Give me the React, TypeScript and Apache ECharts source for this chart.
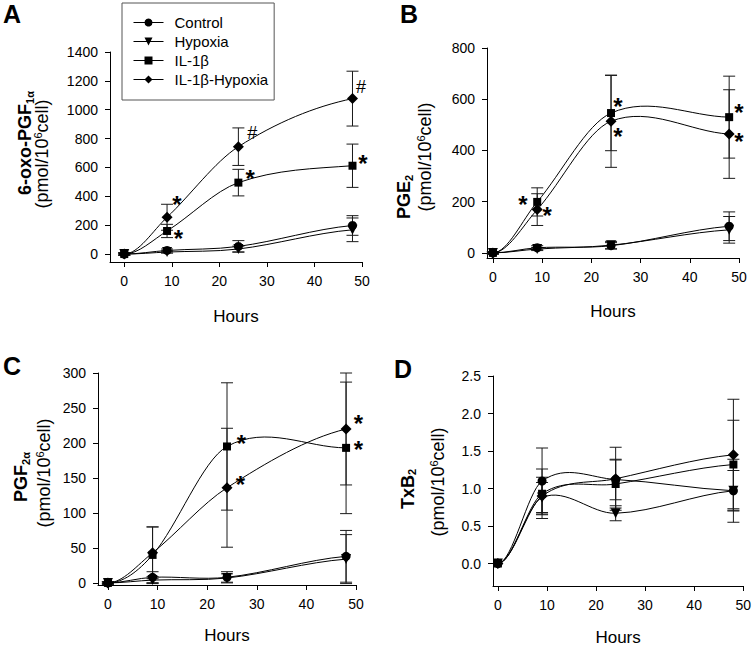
import React, { useEffect, useRef } from 'react';
import * as echarts from 'echarts';

const HOURS = [0, 9, 24, 48];
const GROUPS = ['Control', 'Hypoxia', 'IL-1β', 'IL-1β-Hypoxia'];
const SYMBOLS = ['circle', 'triangle', 'rect', 'diamond'];
const SYMBOL_SIZES = [9, 10, 8, 11];
const SYMBOL_ROTATE = [0, 180, 0, 0];
const X_TICKS = [0, 10, 20, 30, 40, 50];

// Panel A: 6-oxo-PGF1α
const A_CONTROL = [0, 25, 53, 198];
const A_CONTROL_ERR = [5, 10, 40, 68];
const A_HYPOXIA = [0, 14, 35, 168];
const A_HYPOXIA_ERR = [5, 8, 20, 82];
const A_IL1B = [0, 160, 495, 612];
const A_IL1B_ERR = [10, 46, 92, 150];
const A_IL1B_HYP = [0, 255, 744, 1077];
const A_IL1B_HYP_ERR = [10, 90, 130, 190];
const A_Y_TICKS = [0, 200, 400, 600, 800, 1000, 1200, 1400];
const A_NOTES: [string, number, number][] = [
  ['*', 11.1, 382], ['*', 11.4, 145], ['*', 26.5, 560], ['*', 50.2, 663], ['#', 26.9, 836], ['#', 49.8, 1158],
];

// Panel B: PGE2
const B_CONTROL = [0, 20, 28, 104];
const B_CONTROL_ERR = [3, 8, 12, 56];
const B_HYPOXIA = [0, 15, 30, 90];
const B_HYPOXIA_ERR = [3, 6, 15, 52];
const B_IL1B = [0, 199, 546, 530];
const B_IL1B_ERR = [5, 55, 147, 160];
const B_IL1B_HYP = [0, 169, 514, 464];
const B_IL1B_HYP_ERR = [5, 62, 180, 173];
const B_Y_TICKS = [0, 200, 400, 600, 800];
const B_NOTES: [string, number, number][] = [
  ['*', 6.1, 211], ['*', 11, 169], ['*', 25.4, 592], ['*', 25.4, 475], ['*', 50, 570], ['*', 50, 455],
];

// Panel C: PGF2α
const C_CONTROL = [0, 8, 8, 38];
const C_CONTROL_ERR = [1, 8, 8, 37];
const C_HYPOXIA = [0, 4, 7, 34];
const C_HYPOXIA_ERR = [1, 5, 6, 35];
const C_IL1B = [0, 40, 195, 193];
const C_IL1B_ERR = [2, 40, 91, 94];
const C_IL1B_HYP = [0, 43, 136, 220];
const C_IL1B_HYP_ERR = [2, 37, 85, 80];
const C_Y_TICKS = [0, 50, 100, 150, 200, 250, 300];
const C_NOTES: [string, number, number][] = [
  ['*', 26.9, 207], ['*', 26.7, 149], ['*', 50.5, 235], ['*', 50.5, 198],
];

// Panel D: TxB2
const D_CONTROL = [0, 1.1, 1.12, 0.97];
const D_CONTROL_ERR = [0, 0.44, 0.27, 0.42];
const D_HYPOXIA = [0, 0.88, 0.67, 0.97];
const D_HYPOXIA_ERR = [0, 0.2, 0.1, 0.27];
const D_IL1B = [0, 0.93, 1.06, 1.32];
const D_IL1B_ERR = [0, 0.33, 0.32, 0.59];
const D_IL1B_HYP = [0, 0.9, 1.13, 1.45];
const D_IL1B_HYP_ERR = [0, 0.25, 0.42, 0.74];
const D_Y_TICKS = [0, 0.5, 1.0, 1.5, 2.0, 2.5];
const D_NOTES: [string, number, number][] = [];

const FONT = '"Liberation Sans", Arial, Helvetica, sans-serif';
const INK = '#000';

const PANELS = [
  {
    letter: 'A', letterPos: [3, 14],
    values: [A_CONTROL, A_HYPOXIA, A_IL1B, A_IL1B_HYP],
    errs: [A_CONTROL_ERR, A_HYPOXIA_ERR, A_IL1B_ERR, A_IL1B_HYP_ERR],
    yTicks: A_Y_TICKS, yMin: -55, yMax: 1400, xMin: -3, notes: A_NOTES,
    grid: { left: 110, top: 52, width: 252, height: 210 }, nameGap: 46, decimals: 0,
    title: '{b|6-oxo-PGF}{bs|1α}', titlePos: [25, 143],
    unitPos: [42, 154],
  },
  {
    letter: 'B', letterPos: [400, 14],
    values: [B_CONTROL, B_HYPOXIA, B_IL1B, B_IL1B_HYP],
    errs: [B_CONTROL_ERR, B_HYPOXIA_ERR, B_IL1B_ERR, B_IL1B_HYP_ERR],
    yTicks: B_Y_TICKS, yMin: -20, yMax: 800, xMin: -1.2, notes: B_NOTES,
    grid: { left: 487, top: 48, width: 252, height: 210 }, nameGap: 45, decimals: 0,
    title: '{b|PGE}{bs|2}', titlePos: [404, 197],
    unitPos: [425, 157],
  },
  {
    letter: 'C', letterPos: [3, 366],
    values: [C_CONTROL, C_HYPOXIA, C_IL1B, C_IL1B_HYP],
    errs: [C_CONTROL_ERR, C_HYPOXIA_ERR, C_IL1B_ERR, C_IL1B_HYP_ERR],
    yTicks: C_Y_TICKS, yMin: -3, yMax: 300, xMin: -2, notes: C_NOTES,
    grid: { left: 98, top: 373, width: 258, height: 212 }, nameGap: 42, decimals: 0,
    title: '{b|PGF}{bs|2α}', titlePos: [21, 477],
    unitPos: [44, 473],
  },
  {
    letter: 'D', letterPos: [394, 369],
    values: [D_CONTROL, D_HYPOXIA, D_IL1B, D_IL1B_HYP],
    errs: [D_CONTROL_ERR, D_HYPOXIA_ERR, D_IL1B_ERR, D_IL1B_HYP_ERR],
    yTicks: D_Y_TICKS, yMin: -0.3, yMax: 2.5, xMin: -1, notes: D_NOTES,
    grid: { left: 493, top: 376, width: 251, height: 211 }, nameGap: 43, decimals: 1,
    title: '{b|TxB}{bs|2}', titlePos: [407.5, 489],
    unitPos: [438, 482],
  },
];

const TITLE_RICH = {
  b: { fontFamily: FONT, fontWeight: 'bold', fontSize: 18, lineHeight: 20, verticalAlign: 'middle', fill: INK, color: INK },
  bs: { fontFamily: FONT, fontWeight: 'bold', fontSize: 11, lineHeight: 11, verticalAlign: 'bottom', fill: INK, color: INK },
  n: { fontFamily: FONT, fontSize: 18, lineHeight: 20, verticalAlign: 'middle', fill: INK, color: INK },
  sup: { fontFamily: FONT, fontSize: 11, lineHeight: 11, verticalAlign: 'top', fill: INK, color: INK },
};

// Cardinal-spline tangents (flat start, half-secant end), like the plotting program's spline
function tangents(xs: number[], ys: number[]): number[] {
  const n = xs.length;
  const m = new Array(n).fill(0);
  for (let i = 1; i < n - 1; i++) m[i] = (ys[i + 1] - ys[i - 1]) / (xs[i + 1] - xs[i - 1]);
  m[0] = 0;
  m[n - 1] = 0.5 * (ys[n - 1] - ys[n - 2]) / (xs[n - 1] - xs[n - 2]);
  return m;
}

function buildOption() {
  const grids: any[] = [];
  const xAxes: any[] = [];
  const yAxes: any[] = [];
  const series: any[] = [];
  const graphics: any[] = [];

  PANELS.forEach((p, i) => {
    grids.push({ ...p.grid, containLabel: false });
    xAxes.push({
      type: 'value', gridIndex: i, min: p.xMin, max: 50,
      axisLine: { show: true, onZero: false, lineStyle: { color: INK, width: 1 } },
      axisTick: { show: true, length: 5, inside: false, customValues: X_TICKS, lineStyle: { color: INK, width: 1 } },
      axisLabel: { customValues: X_TICKS, fontSize: 14, fontFamily: FONT, color: INK, margin: 12 },
      splitLine: { show: false },
      name: 'Hours', nameLocation: 'middle', nameGap: p.nameGap,
      nameTextStyle: { fontSize: 17, fontFamily: FONT, color: INK },
    });
    yAxes.push({
      type: 'value', gridIndex: i, min: p.yMin, max: p.yMax,
      axisLine: { show: true, onZero: false, lineStyle: { color: INK, width: 1 } },
      axisTick: { show: true, length: 5, inside: false, customValues: p.yTicks, lineStyle: { color: INK, width: 1 } },
      axisLabel: {
        customValues: p.yTicks, fontSize: 14, fontFamily: FONT, color: INK, margin: 12,
        formatter: (v: number) => v.toFixed(p.decimals),
      },
      splitLine: { show: false },
    });

    // error bars
    const errData: number[][] = [];
    p.values.forEach((vals, g) => {
      vals.forEach((v, k) => errData.push([HOURS[k], v, p.errs[g][k]]));
    });
    series.push({
      type: 'custom', xAxisIndex: i, yAxisIndex: i, z: 2, silent: true,
      data: errData, encode: { x: 0, y: 1 },
      renderItem: (_params: any, api: any) => {
        const x = api.value(0), y = api.value(1), e = api.value(2);
        if (!e) return { type: 'group', children: [] };
        const top = api.coord([x, y + e]);
        const bot = api.coord([x, y - e]);
        const hw = 6;
        const style = { stroke: '#1a1a1a', lineWidth: 1 };
        return {
          type: 'group',
          children: [
            { type: 'line', shape: { x1: top[0], y1: top[1], x2: bot[0], y2: bot[1] }, style },
            { type: 'line', shape: { x1: top[0] - hw, y1: top[1], x2: top[0] + hw, y2: top[1] }, style },
            { type: 'line', shape: { x1: bot[0] - hw, y1: bot[1], x2: bot[0] + hw, y2: bot[1] }, style },
          ],
        };
      },
    });

    // spline curves: one bezier per segment between measured points
    const segData: number[][] = [];
    p.values.forEach((vals) => {
      const m = tangents(HOURS, vals);
      for (let k = 0; k < HOURS.length - 1; k++) {
        segData.push([HOURS[k], vals[k], HOURS[k + 1], vals[k + 1], m[k], m[k + 1]]);
      }
    });
    series.push({
      type: 'custom', xAxisIndex: i, yAxisIndex: i, z: 3, silent: true,
      data: segData, encode: { x: [0, 2], y: [1, 3] },
      renderItem: (_params: any, api: any) => {
        const x0 = api.value(0), y0 = api.value(1), x1 = api.value(2), y1 = api.value(3);
        const m0 = api.value(4), m1 = api.value(5);
        const h = x1 - x0;
        const a = api.coord([x0, y0]);
        const b = api.coord([x1, y1]);
        const c1 = api.coord([x0 + h / 3, y0 + (m0 * h) / 3]);
        const c2 = api.coord([x1 - h / 3, y1 - (m1 * h) / 3]);
        return {
          type: 'bezierCurve',
          shape: { x1: a[0], y1: a[1], x2: b[0], y2: b[1], cpx1: c1[0], cpy1: c1[1], cpx2: c2[0], cpy2: c2[1] },
          style: { stroke: INK, lineWidth: 1, fill: 'none' },
        };
      },
    });

    // markers (line series, line itself hidden; curve drawn above)
    p.values.forEach((vals, g) => {
      series.push({
        type: 'line', name: GROUPS[g], xAxisIndex: i, yAxisIndex: i, z: 4, silent: true,
        data: vals.map((v, k) => [HOURS[k], v]),
        symbol: SYMBOLS[g], symbolSize: SYMBOL_SIZES[g], symbolRotate: SYMBOL_ROTATE[g],
        showSymbol: true,
        lineStyle: { color: INK, width: 1, opacity: 0 },
        itemStyle: { color: INK, borderWidth: 0 },
        emphasis: { disabled: true },
      });
    });

    // significance marks
    if (p.notes.length) {
      const notes = p.notes;
      series.push({
        type: 'custom', xAxisIndex: i, yAxisIndex: i, z: 5, silent: true,
        data: notes.map((n) => [n[1], n[2]]), encode: { x: 0, y: 1 },
        renderItem: (params: any, api: any) => {
          const label = notes[params.dataIndex][0];
          const pt = api.coord([api.value(0), api.value(1)]);
          const isStar = label === '*';
          const fs = isStar ? 24 : 18;
          return {
            type: 'text', x: pt[0], y: pt[1] + (isStar ? 0.23 * fs : 0),
            style: {
              text: label, fontFamily: FONT, fontSize: fs, fontWeight: isStar ? 'bold' : 'normal',
              fill: INK, align: 'center', verticalAlign: 'middle',
            },
          };
        },
      });
    }

    graphics.push({
      type: 'text', left: p.letterPos[0], top: p.letterPos[1] - 13,
      style: { text: p.letter, fontFamily: FONT, fontWeight: 'bold', fontSize: 25, fill: INK },
    });
    graphics.push({
      type: 'text', x: p.titlePos[0], y: p.titlePos[1], rotation: Math.PI / 2,
      style: { text: p.title, rich: TITLE_RICH, align: 'center', verticalAlign: 'middle', fill: INK },
    });
    graphics.push({
      type: 'text', x: p.unitPos[0], y: p.unitPos[1], rotation: Math.PI / 2,
      style: { text: '{n|(pmol/10}{sup|6}{n|cell)}', rich: TITLE_RICH, align: 'center', verticalAlign: 'middle', fill: INK },
    });
  });

  return {
    animation: false,
    backgroundColor: '#fff',
    textStyle: { fontFamily: FONT },
    grid: grids,
    xAxis: xAxes,
    yAxis: yAxes,
    legend: {
      data: GROUPS, orient: 'vertical', left: 122, top: 3,
      padding: [12, 6, 13, 11], itemWidth: 30, itemHeight: 10, itemGap: 4,
      borderColor: '#555', borderWidth: 1,
      selectedMode: false,
      lineStyle: { color: INK, width: 1, opacity: 1 },
      textStyle: { fontSize: 15, fontFamily: FONT, color: INK, padding: [0, 0, 0, 6] },
    },
    series,
    graphic: graphics,
  };
}

export default function App() {
  const ref = useRef<HTMLDivElement>(null);
  useEffect(() => {
    if (!ref.current) return;
    const chart = echarts.init(ref.current, undefined, { renderer: 'svg' });
    chart.setOption(buildOption() as any);
    return () => chart.dispose();
  }, []);
  return <div ref={ref} style={{ position: 'fixed', left: 0, top: 0, width: 754, height: 647, background: '#fff' }} />;
}
